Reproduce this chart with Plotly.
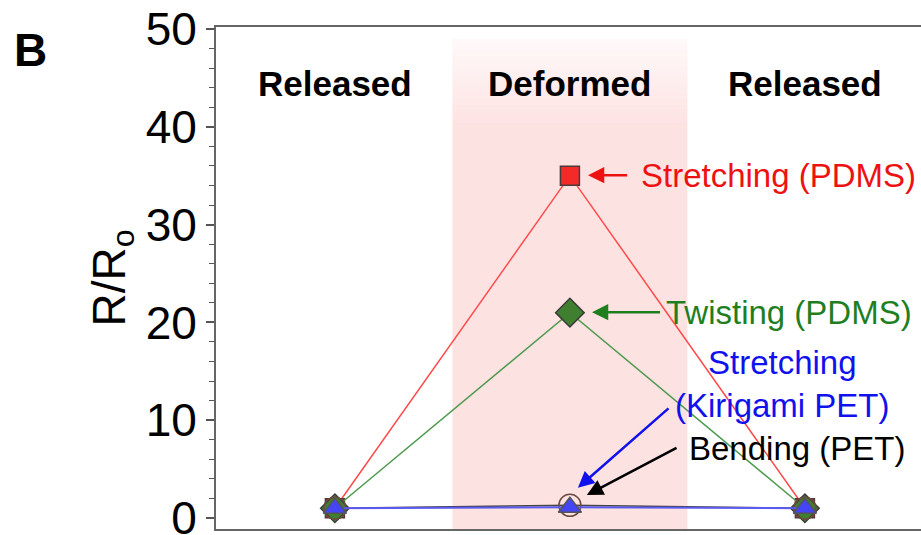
import plotly.graph_objects as go

# ---- data ----
states = ["Released", "Deformed", "Released"]
x_pos = [0, 1, 2]
stretch_pdms = [1.0, 35.0, 1.0]
twist_pdms = [1.0, 21.0, 1.0]
bending_pet = [1.0, 1.3, 1.0]
stretch_kirigami = [1.0, 1.1, 1.0]

y_ticks = [0, 10, 20, 30, 40, 50]

FONT = "Arial, Liberation Sans, sans-serif"

fig = go.Figure()

fig.add_trace(go.Scatter(
    x=x_pos, y=stretch_pdms, mode="lines+markers", name="Stretching (PDMS)",
    line=dict(color="#ff4a4a", width=1.5),
    marker=dict(symbol="square", size=19, color="#f42a2a",
                line=dict(color="#4a3a3a", width=1.5))))
fig.add_trace(go.Scatter(
    x=x_pos, y=twist_pdms, mode="lines+markers", name="Twisting (PDMS)",
    line=dict(color="#4e9a4e", width=1.5),
    marker=dict(symbol="diamond", size=22, color="#3f7f2f",
                line=dict(color="#3a3a3a", width=1.5))))
fig.add_trace(go.Scatter(
    x=x_pos, y=bending_pet, mode="lines+markers", name="Bending (PET)",
    line=dict(color="#444444", width=1.5),
    marker=dict(symbol="circle", size=22, color="rgba(0,0,0,0)",
                line=dict(color="#6b4a40", width=1.5))))
fig.add_trace(go.Scatter(
    x=x_pos, y=stretch_kirigami, mode="lines+markers", name="Stretching (Kirigami PET)",
    line=dict(color="#5a5aee", width=2),
    marker=dict(symbol="triangle-up", size=20, color="#4545f5",
                line=dict(color="#555555", width=1.5))))

# shaded "Deformed" region with soft fade at the top
shapes = [dict(type="rect", xref="x", yref="y", x0=0.5, x1=1.5, y0=-1.12, y1=40,
               fillcolor="rgba(250,165,165,0.32)", line=dict(width=0), layer="below")]
n_fade = 24
top_y, bot_y = 49.0, 40.0
for i in range(n_fade):
    y1 = top_y - (top_y - bot_y) * i / n_fade
    y0 = top_y - (top_y - bot_y) * (i + 1) / n_fade
    a = 0.06 + 0.26 * (i + 1) / n_fade
    shapes.append(dict(type="rect", xref="x", yref="y", x0=0.5, x1=1.5, y0=y0, y1=y1,
                       fillcolor="rgba(250,165,165,%.3f)" % a,
                       line=dict(width=0), layer="below"))

annotations = []
# column headers
for xp, s in zip(x_pos, states):
    annotations.append(dict(x=xp, y=44.4, xref="x", yref="y", text="<b>%s</b>" % s,
                            showarrow=False, font=dict(family=FONT, size=35, color="black")))

# arrows (tip at x,y ; tail at ax,ay)
arrows = [
    (1.077, 35.05, 1.25, 35.05, "#ee1111"),
    (1.094, 21.05, 1.39, 21.05, "#1f7f1f"),
    (1.034, 3.1, 1.426, 11.35, "#1111ee"),
    (1.072, 2.35, 1.46, 7.26, "#000000"),
]
for x, y, ax, ay, c in arrows:
    annotations.append(dict(x=x, y=y, ax=ax, ay=ay, xref="x", yref="y", axref="x", ayref="y",
                            text="", showarrow=True, arrowhead=2, arrowsize=1.3,
                            arrowwidth=2.5, arrowcolor=c))

labels = [
    (1.293, 35.0, "left", "Stretching (PDMS)", "#ee1111"),
    (1.40, 21.0, "left", "Twisting (PDMS)", "#1f7f1f"),
    (1.906, 13.7, "center", "Stretching<br>(Kirigami PET)", "#1111ee"),
    (1.50, 7.16, "left", "Bending (PET)", "#000000"),
]
for x, y, xa, t, c in labels:
    annotations.append(dict(x=x, y=y, xref="x", yref="y", text=t, xanchor=xa,
                            showarrow=False, align="center",
                            font=dict(family=FONT, size=33, color=c)))

annotations.append(dict(x=-0.29, y=1.01, xref="paper", yref="paper", text="<b>B</b>",
                        xanchor="left", yanchor="top", showarrow=False,
                        font=dict(family=FONT, size=46, color="black")))

fig.update_layout(
    width=921, height=535,
    margin=dict(l=216, r=0, t=27, b=6, autoexpand=False),
    paper_bgcolor="white", plot_bgcolor="white",
    showlegend=False,
    shapes=shapes,
    annotations=annotations,
    font=dict(family=FONT),
    xaxis=dict(range=[-0.506, 2.494], showgrid=False, zeroline=False, automargin=False,
               showticklabels=False, ticks="", showline=True, linecolor="#666666",
               linewidth=2, mirror=True),
    yaxis=dict(range=[-1.12, 50.2], tickvals=y_ticks, showgrid=False, zeroline=False,
               automargin=False,
               ticks="outside", ticklen=8, tickwidth=1.5, tickcolor="#555555",
               showline=True, linecolor="#666666", linewidth=2,
               ticklabeloverflow="allow",
               tickfont=dict(family=FONT, size=46, color="black"),
               minor=dict(dtick=2, ticks="outside", ticklen=5, tickwidth=1, tickcolor="#555555"),
               title=dict(text="R/R<sub>o</sub>", standoff=6,
                          font=dict(family=FONT, size=46, color="black"))),
)

fig.write_html("out.html")
